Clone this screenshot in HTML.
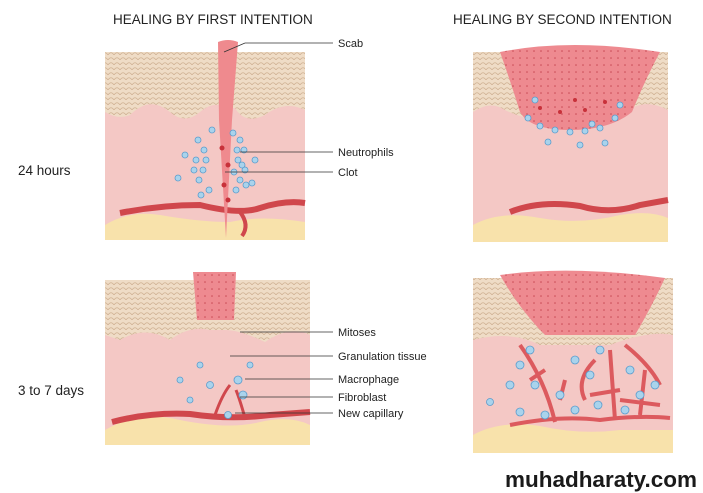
<!DOCTYPE html>
<html><head><style>
body{margin:0;background:#fff;width:703px;height:493px;overflow:hidden;font-family:"Liberation Sans",sans-serif}
svg{display:block}
</style></head><body>
<svg width="703" height="493" viewBox="0 0 703 493" xmlns="http://www.w3.org/2000/svg" font-family="Liberation Sans, sans-serif">
<defs>
<pattern id="ep" width="6" height="5" patternUnits="userSpaceOnUse"><rect width="6" height="5" fill="#efdcc6"/><path d="M0 5 Q3 0.5 6 5" fill="none" stroke="#cfb193" stroke-width="0.8"/></pattern>
<pattern id="dots" width="7" height="7" patternUnits="userSpaceOnUse"><rect width="7" height="7" fill="#ee8a90"/><circle cx="2" cy="2" r="0.8" fill="#c94a55"/></pattern>
</defs>
<text x="113" y="24" font-size="13.5" fill="#222">HEALING BY FIRST INTENTION</text>
<text x="453" y="24" font-size="13.5" fill="#222">HEALING BY SECOND INTENTION</text>
<text x="18" y="175" font-size="13.5" fill="#222">24 hours</text>
<text x="18" y="395" font-size="13.5" fill="#222">3 to 7 days</text>

<!-- TL panel -->
<g>
<rect x="105" y="52" width="200" height="188" fill="#f4c8c5"/>
<path d="M105 52 L305 52 L305 110 Q285 100 265 115 Q245 125 235 108 L225 108 Q215 100 200 112 Q185 125 170 112 Q150 95 130 115 Q118 120 105 112Z" fill="url(#ep)"/>
<path d="M105 225 Q130 210 160 215 Q200 222 230 222 Q260 215 305 222 L305 240 L105 240Z" fill="#f8e2ab"/>
<path d="M120 213 Q160 205 200 205 Q240 215 260 208 Q285 200 305 203" stroke="#d0474c" stroke-width="6" fill="none"/>
<path d="M240 212 Q250 225 242 236" stroke="#d0474c" stroke-width="4" fill="none"/>
<path d="M218 42 Q228 38 238 42 L232 120 L226 238 L219 120Z" fill="#ef8a8e"/>
<g fill="#a9d3ec" stroke="#5b9ccc" stroke-width="0.8">
<circle cx="198" cy="140" r="3"/><circle cx="204" cy="150" r="3"/><circle cx="196" cy="160" r="3"/><circle cx="203" cy="170" r="3"/><circle cx="199" cy="180" r="3"/><circle cx="240" cy="140" r="3"/><circle cx="244" cy="150" r="3"/><circle cx="238" cy="160" r="3"/><circle cx="245" cy="170" r="3"/><circle cx="240" cy="180" r="3"/><circle cx="236" cy="190" r="3"/><circle cx="209" cy="190" r="3"/><circle cx="185" cy="155" r="3"/><circle cx="178" cy="178" r="3"/><circle cx="255" cy="160" r="3"/><circle cx="252" cy="183" r="3"/><circle cx="212" cy="130" r="3"/><circle cx="233" cy="133" r="3"/>
<circle cx="206" cy="160" r="3"/><circle cx="237" cy="150" r="3"/><circle cx="242" cy="165" r="3"/><circle cx="201" cy="195" r="3"/><circle cx="246" cy="185" r="3"/><circle cx="234" cy="172" r="3"/><circle cx="194" cy="170" r="3"/>
</g>
<g fill="#c8313a"><circle cx="222" cy="148" r="2.5"/><circle cx="228" cy="165" r="2.5"/><circle cx="224" cy="185" r="2.5"/><circle cx="228" cy="200" r="2.5"/></g>
</g>
<!-- TR panel -->
<g>
<rect x="473" y="52" width="195" height="190" fill="#f4c8c5"/>
<path d="M473 52 L668 52 L668 110 Q640 95 620 118 Q600 130 560 125 Q520 118 505 110 Q490 100 473 112Z" fill="url(#ep)"/>
<path d="M473 225 Q500 210 540 218 Q580 225 620 215 Q650 210 668 218 L668 242 L473 242Z" fill="#f8e2ab"/>
<path d="M510 212 Q540 200 580 206 Q610 215 640 205 L668 200" stroke="#d0474c" stroke-width="6" fill="none"/>
<path d="M500 52 Q570 38 660 52 Q645 80 632 112 Q610 130 570 130 Q530 130 520 112 Q510 80 500 52Z" fill="url(#dots)"/>
<g fill="#c8313a"><circle cx="540" cy="108" r="2"/><circle cx="560" cy="112" r="2"/><circle cx="585" cy="110" r="2"/><circle cx="605" cy="102" r="2"/><circle cx="575" cy="100" r="2"/></g>
<g fill="#a9d3ec" stroke="#5b9ccc" stroke-width="0.8"><circle cx="528" cy="118" r="3"/><circle cx="540" cy="126" r="3"/><circle cx="555" cy="130" r="3"/><circle cx="570" cy="132" r="3"/><circle cx="585" cy="131" r="3"/><circle cx="600" cy="128" r="3"/><circle cx="615" cy="118" r="3"/><circle cx="548" cy="142" r="3"/><circle cx="580" cy="145" r="3"/><circle cx="605" cy="143" r="3"/><circle cx="535" cy="100" r="3"/><circle cx="620" cy="105" r="3"/><circle cx="592" cy="124" r="3"/></g>
</g>
<!-- BL panel -->
<g>
<rect x="105" y="280" width="205" height="165" fill="#f4c8c5"/>
<path d="M105 280 L310 280 L310 335 Q290 325 265 342 Q240 330 225 330 L210 330 Q190 325 170 340 Q145 325 120 340 L105 335Z" fill="url(#ep)"/>
<path d="M105 430 Q140 410 180 420 Q230 430 260 422 Q290 415 310 425 L310 445 L105 445Z" fill="#f8e2ab"/>
<path d="M112 422 Q150 412 190 414 Q230 420 270 415 L310 412" stroke="#d0474c" stroke-width="6" fill="none"/>
<path d="M215 415 Q222 395 230 385 M245 418 Q240 400 236 390" stroke="#d0474c" stroke-width="3" fill="none"/>
<path d="M193 272 L236 272 L234 320 L197 320Z" fill="url(#dots)"/>
<g fill="#a9d3ec" stroke="#5b9ccc" stroke-width="0.8"><circle cx="238" cy="380" r="4"/><circle cx="243" cy="395" r="4"/><circle cx="210" cy="385" r="3.5"/><circle cx="228" cy="415" r="3.5"/><circle cx="190" cy="400" r="3"/><circle cx="250" cy="365" r="3"/><circle cx="200" cy="365" r="3"/><circle cx="180" cy="380" r="3"/></g>
</g>
<!-- BR panel -->
<g>
<rect x="473" y="278" width="200" height="175" fill="#f4c8c5"/>
<path d="M473 278 L673 278 L673 335 Q650 330 610 345 L540 345 Q510 330 473 340Z" fill="url(#ep)"/>
<path d="M473 435 Q500 420 540 426 Q580 435 620 430 L673 430 L673 453 L473 453Z" fill="#f8e2ab"/>
<path d="M500 275 Q570 265 665 278 Q650 310 635 335 L545 335 Q520 310 500 275Z" fill="url(#dots)"/>
<g stroke="#dc5a5e" stroke-width="4" fill="none"><path d="M510 425 Q560 415 600 420 Q640 415 670 418"/><path d="M520 345 Q545 380 555 422 M565 380 L560 400 M610 350 L615 420 M645 370 L640 415 M590 395 L620 390 M660 405 L620 400 M545 370 L530 380 M595 360 Q575 380 585 400 M625 345 Q650 365 660 385"/></g>
<g fill="#a9d3ec" stroke="#5b9ccc" stroke-width="0.8"><circle cx="520" cy="365" r="4"/><circle cx="535" cy="385" r="4"/><circle cx="575" cy="360" r="4"/><circle cx="590" cy="375" r="4"/><circle cx="630" cy="370" r="4"/><circle cx="598" cy="405" r="4"/><circle cx="545" cy="415" r="4"/><circle cx="490" cy="402" r="3.5"/><circle cx="625" cy="410" r="4"/><circle cx="655" cy="385" r="4"/><circle cx="530" cy="350" r="4"/><circle cx="560" cy="395" r="4"/><circle cx="640" cy="395" r="4"/><circle cx="600" cy="350" r="4"/><circle cx="510" cy="385" r="4"/><circle cx="575" cy="410" r="4"/><circle cx="520" cy="412" r="4"/></g>
</g>

<g stroke="#333" stroke-width="0.8">
<line x1="224" y1="52" x2="245" y2="43"/><line x1="245" y1="43" x2="333" y2="43"/>
<line x1="240" y1="152" x2="333" y2="152"/>
<line x1="225" y1="172" x2="333" y2="172"/>
<line x1="240" y1="332" x2="333" y2="332"/>
<line x1="230" y1="356" x2="333" y2="356"/>
<line x1="245" y1="379" x2="333" y2="379"/>
<line x1="240" y1="397" x2="333" y2="397"/>
<line x1="235" y1="413" x2="333" y2="413"/>
</g>
<g font-size="11" fill="#222">
<text x="338" y="47">Scab</text><text x="338" y="156">Neutrophils</text><text x="338" y="176">Clot</text>
<text x="338" y="336">Mitoses</text><text x="338" y="360">Granulation tissue</text><text x="338" y="383">Macrophage</text>
<text x="338" y="401">Fibroblast</text><text x="338" y="417">New capillary</text>
</g>
<text x="505" y="487" font-size="22" font-weight="bold" fill="#1a1a1a" textLength="192" lengthAdjust="spacingAndGlyphs">muhadharaty.com</text>
</svg>
</body></html>
